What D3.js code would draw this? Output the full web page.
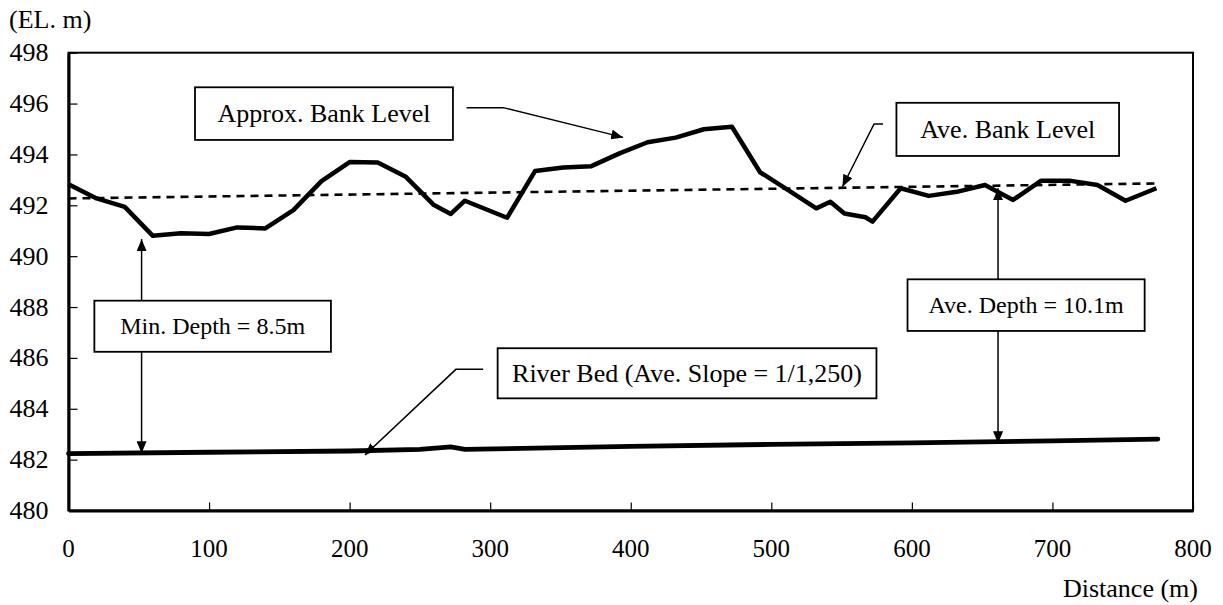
<!DOCTYPE html>
<html>
<head>
<meta charset="utf-8">
<script src="https://cdn.jsdelivr.net/npm/d3@7"></script>
<style>
  body { margin: 0; background: #fff; }
  text { font-family: "Liberation Serif", "Times New Roman", serif; fill: #000; }
</style>
</head>
<body>
<div id="chart"></div>
<script>
// Approx. bank level (distance m, elevation EL. m)
const bankDist = [0, 20, 40, 60, 80, 100, 120, 140, 160, 180, 200, 220, 240, 260, 272, 282, 312,
  332, 352, 372, 392, 412, 432, 452, 472, 492, 512, 532, 542, 552, 567, 572, 592, 612, 632,
  652, 672, 692, 712, 732, 752, 774]
const bankElev = [492.83, 492.27, 491.94, 490.80, 490.90, 490.87, 491.13, 491.09, 491.81, 492.95,
  493.70, 493.68, 493.12, 492.01, 491.66, 492.18, 491.51, 493.35, 493.49, 493.54, 494.04, 494.48,
  494.66, 494.99, 495.09, 493.30, 492.60, 491.88, 492.14, 491.68, 491.53, 491.36, 492.67, 492.37,
  492.53, 492.80, 492.21, 492.97, 492.97, 492.80, 492.18, 492.67]

// river bed
const bedDist = [0, 100, 200, 250, 272, 282, 400, 500, 600, 700, 775]
const bedElev = [482.24, 482.29, 482.34, 482.40, 482.50, 482.40, 482.52, 482.60, 482.66, 482.74, 482.81]

// average bank level (straight trend)
const aveDist = [0, 775]
const aveElev = [492.27, 492.86]

const xTicks = [0, 100, 200, 300, 400, 500, 600, 700, 800]
const yTicks = [480, 482, 484, 486, 488, 490, 492, 494, 496, 498]

const margin = { top: 52.7, right: 30, bottom: 94.5, left: 68.5 }
const W = 1223
const H = 605
const width = W - margin.left - margin.right
const height = H - margin.top - margin.bottom

const svg = d3.select('#chart').append('svg')
  .attr('width', W)
  .attr('height', H)

const defs = svg.append('defs')
defs.append('marker')
  .attr('id', 'head')
  .attr('viewBox', '0 0 12 10')
  .attr('refX', 12).attr('refY', 5)
  .attr('markerWidth', 12).attr('markerHeight', 10)
  .attr('markerUnits', 'userSpaceOnUse')
  .attr('orient', 'auto-start-reverse')
  .append('path')
  .attr('d', 'M0,0 L12,5 L0,10 Z')
  .attr('fill', '#000')

const g = svg.append('g')
  .attr('transform', 'translate(' + margin.left + ',' + margin.top + ')')

const x = d3.scaleLinear().domain([0, 800]).range([0, width])
const y = d3.scaleLinear().domain([480, 498]).range([height, 0])

// frame
g.append('rect')
  .attr('width', width).attr('height', height)
  .attr('fill', 'none').attr('stroke', '#000').attr('stroke-width', 2)

// axes with inward ticks
const xAxis = g.append('g')
  .attr('transform', 'translate(0,' + height + ')')
  .call(d3.axisBottom(x).tickValues(xTicks).tickSizeInner(-8).tickSizeOuter(0).tickPadding(0))
xAxis.select('.domain').attr('stroke-width', 3)
xAxis.selectAll('.tick line').attr('stroke-width', 1.2)
xAxis.selectAll('.tick text').remove()

const yAxis = g.append('g')
  .call(d3.axisLeft(y).tickValues(yTicks).tickSizeInner(-9).tickSizeOuter(0))
yAxis.select('.domain').attr('stroke-width', 3)
yAxis.selectAll('.tick line').attr('stroke-width', 1.2)
yAxis.selectAll('.tick text').remove()

// tick labels
g.selectAll('.xlab').data(xTicks).enter().append('text')
  .attr('x', d => x(d)).attr('y', height + 47)
  .attr('text-anchor', 'middle')
  .style('font-size', '25px')
  .text(d => d)
g.selectAll('.ylab').data(yTicks).enter().append('text')
  .attr('x', -20).attr('y', d => y(d) + 8.5)
  .attr('text-anchor', 'end')
  .style('font-size', '26px')
  .text(d => d)

svg.append('text').attr('x', 9).attr('y', 28).style('font-size', '26px').text('(EL. m)')
svg.append('text').attr('x', 1198).attr('y', 597).attr('text-anchor', 'end')
  .style('font-size', '26px').text('Distance (m)')

const line = d3.line().x(d => x(d[0])).y(d => y(d[1]))

// average bank (dashed)
g.append('path')
  .datum(d3.zip(aveDist, aveElev))
  .attr('d', line)
  .attr('fill', 'none').attr('stroke', '#000')
  .attr('stroke-width', 2.6).attr('stroke-dasharray', '8,6')

// bank level
g.append('path')
  .datum(d3.zip(bankDist, bankElev))
  .attr('d', line)
  .attr('fill', 'none').attr('stroke', '#000')
  .attr('stroke-width', 4.5).attr('stroke-linejoin', 'round')

// river bed
g.append('path')
  .datum(d3.zip(bedDist, bedElev))
  .attr('d', line)
  .attr('fill', 'none').attr('stroke', '#000')
  .attr('stroke-width', 4.8).attr('stroke-linecap', 'round')

// depth arrows (drawn before boxes so the box hides them)
const depthArrows = [
  { d: 52, top: 490.67, bottom: 482.25 },
  { d: 661.3, top: 492.67, bottom: 482.64 }
]
g.selectAll('.depth').data(depthArrows).enter().append('line')
  .attr('x1', a => x(a.d)).attr('x2', a => x(a.d))
  .attr('y1', a => y(a.top)).attr('y2', a => y(a.bottom))
  .attr('stroke', '#000').attr('stroke-width', 1.5)
  .attr('marker-start', 'url(#head)').attr('marker-end', 'url(#head)')

// leader lines: [start, elbow, tip] in data units
const leaders = [
  [[283.2, 495.84], [309.2, 495.84], [394.6, 494.67]],
  [[579.5, 495.20], [573.1, 495.20], [550.6, 492.73]],
  [[295.0, 485.55], [275.6, 485.55], [210.9, 482.18]]
]
g.selectAll('.leader').data(leaders).enter().append('path')
  .attr('d', line)
  .attr('fill', 'none').attr('stroke', '#000').attr('stroke-width', 1.5)
  .attr('marker-end', 'url(#head)')

// label boxes: x0,x1 (m), yTop,yBottom (EL.)
const boxes = [
  { x0: 90.0, x1: 273.5, y0: 496.64, y1: 494.57, size: 26, text: 'Approx. Bank Level' },
  { x0: 589.0, x1: 747.4, y0: 496.03, y1: 493.94, size: 26, text: 'Ave. Bank Level' },
  { x0: 18.4, x1: 186.7, y0: 488.25, y1: 486.24, size: 24, text: 'Min. Depth = 8.5m' },
  { x0: 596.9, x1: 765.6, y0: 489.09, y1: 487.06, size: 24, text: 'Ave. Depth = 10.1m' },
  { x0: 305.3, x1: 574.8, y0: 486.38, y1: 484.41, size: 26, text: 'River Bed (Ave. Slope = 1/1,250)' }
]
const bx = g.selectAll('.box').data(boxes).enter().append('g')
bx.append('rect')
  .attr('x', b => x(b.x0)).attr('y', b => y(b.y0))
  .attr('width', b => x(b.x1) - x(b.x0)).attr('height', b => y(b.y1) - y(b.y0))
  .attr('fill', '#fff').attr('stroke', '#000').attr('stroke-width', 1.8)
bx.append('text')
  .attr('x', b => (x(b.x0) + x(b.x1)) / 2)
  .attr('y', b => (y(b.y0) + y(b.y1)) / 2 + b.size * 0.34)
  .attr('text-anchor', 'middle')
  .style('font-size', b => b.size + 'px')
  .text(b => b.text)
</script>
</body>
</html>
